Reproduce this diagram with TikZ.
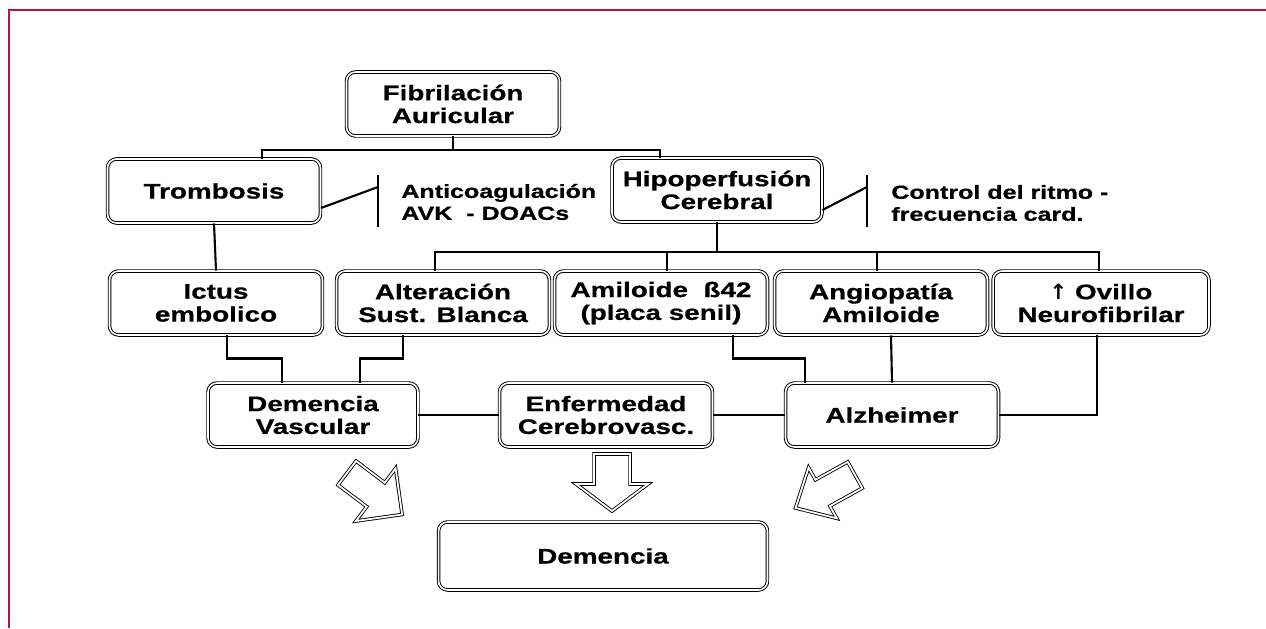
\documentclass[tikz,border=0pt]{standalone}
\usepackage{fontspec}
\setmainfont{Liberation Sans}[FakeStretch=1.32, BoldFeatures={FakeBold=0.6}]
\newfontfamily\arrowsym{DejaVu Sans}
\usepackage{tikz}
\usetikzlibrary{calc}

\definecolor{framered}{RGB}{190,18,60}

\tikzset{
  box/.style={draw, double, double distance=0.9pt, line width=0.55pt,
    rounded corners=0.18cm, minimum width=4.26cm, minimum height=1.28cm,
    align=center, inner sep=2pt, font=\bfseries\fontsize{12}{13}\selectfont},
  note/.style={anchor=west, align=left, inner sep=0pt,
    font=\bfseries\fontsize{10.8}{12.5}\selectfont},
  link/.style={line width=1.2pt},
  arrowline/.style={draw, double, double distance=1pt, line width=0.5pt, line join=miter},
  pics/blockarrow/.style n args={4}{code={
    \draw[arrowline] (0,-#2) -- (#1-#4,-#2) -- (#1-#4,-#3) -- (#1,0)
      -- (#1-#4,#3) -- (#1-#4,#2) -- (0,#2) -- cycle;}}
}

\begin{document}
\begin{tikzpicture}[x=0.02cm,y=-0.02cm]
  \useasboundingbox (0,0) rectangle (1266,628);
  \draw[framered,line width=1.7pt] (1266,10) -- (9,10) -- (9,628);

  % top
  \node[box] (fib) at (453,104) {Fibrilación\\Auricular};
  \node[box] (tromb) at (214,191) {Trombosis};
  \node[box,minimum width=4.2cm] (hipo) at (717,190) {Hipoperfusión\\Cerebral};

  \coordinate (split1) at (453,150);
  \draw[link] (fib.south) -- (split1);
  \draw[link] ([xshift=0.96cm]tromb.north) |- (split1) -| ([xshift=-1.14cm]hipo.north);

  % inhibitors
  \coordinate (bar1) at (378,187);
  \draw[link] ([yshift=-0.34cm]tromb.east) -- (bar1);
  \draw[link] (378,175) -- (378,227);
  \node[note] (anticoag) at (401,202) {Anticoagulación\\AVK\ \ - DOACs};

  \coordinate (bar2) at (867,187);
  \draw[link] ([yshift=-0.4cm]hipo.east) -- (bar2);
  \draw[link] (867,175) -- (867,227);
  \node[note] (ritmo) at (891,203) {Control del ritmo -\\frecuencia card.};

  % second row
  \node[box] (ictus) at (216,303) {Ictus\\embolico};
  \node[box] (alter) at (443,303) {Alteración\\Sust. Blanca};
  \node[box] (amil) at (661,303) {Amiloide\ \ ß42\\(placa senil)};
  \node[box] (angio) at (881,303) {Angiopatía\\Amiloide};
  \node[box,minimum width=4.32cm] (ovillo) at (1101,303) {{\arrowsym ↑} Ovillo\\Neurofibrilar};

  \coordinate (split2) at (717,252);
  \draw[link] (hipo.south) -- (split2);
  \draw[link] ([xshift=-0.16cm]alter.north) |- (split2) -| ([xshift=-0.04cm]ovillo.north);
  \draw[link] ([xshift=0.12cm]amil.north) -- ([xshift=0.12cm]amil.north |- split2);
  \draw[link] ([xshift=-0.08cm]angio.north) -- ([xshift=-0.08cm]angio.north |- split2);
  \draw[link] (tromb.south) -- (ictus.north);

  % third row
  \node[box,minimum width=4.2cm] (demv) at (313,415) {Demencia\\Vascular};
  \node[box] (enf) at (606,415) {Enfermedad\\Cerebrovasc.};
  \node[box] (alz) at (892,415) {Alzheimer};

  \draw[link] ([xshift=0.22cm]ictus.south) -- ++(0,23) -| ([xshift=-0.62cm]demv.north);
  \draw[link] ([xshift=-0.8cm]alter.south) -- ++(0,23) -| ([xshift=0.94cm]demv.north);
  \draw[link] ([xshift=1.44cm]amil.south) -- ++(0,23) -| ([xshift=-1.74cm]alz.north);
  \draw[link] ([xshift=0.2cm]angio.south) -- (alz.north);
  \draw[link] ([xshift=-0.08cm]ovillo.south) |- (alz.east);
  \draw[link] (demv.east) -- (enf.west);
  \draw[link] (enf.east) -- (alz.west);

  % bottom
  \node[box,minimum width=6.58cm,minimum height=1.36cm] (dem) at (603,556) {Demencia};

  \pic[rotate=-37] at (347,473) {blockarrow={69}{15}{33}{33}};
  \pic[rotate=-90] at (612,454) {blockarrow={57}{18}{36}{27}};
  \pic[rotate=-151] at (855,475) {blockarrow={68}{15}{29}{31}};
\end{tikzpicture}
\end{document}
